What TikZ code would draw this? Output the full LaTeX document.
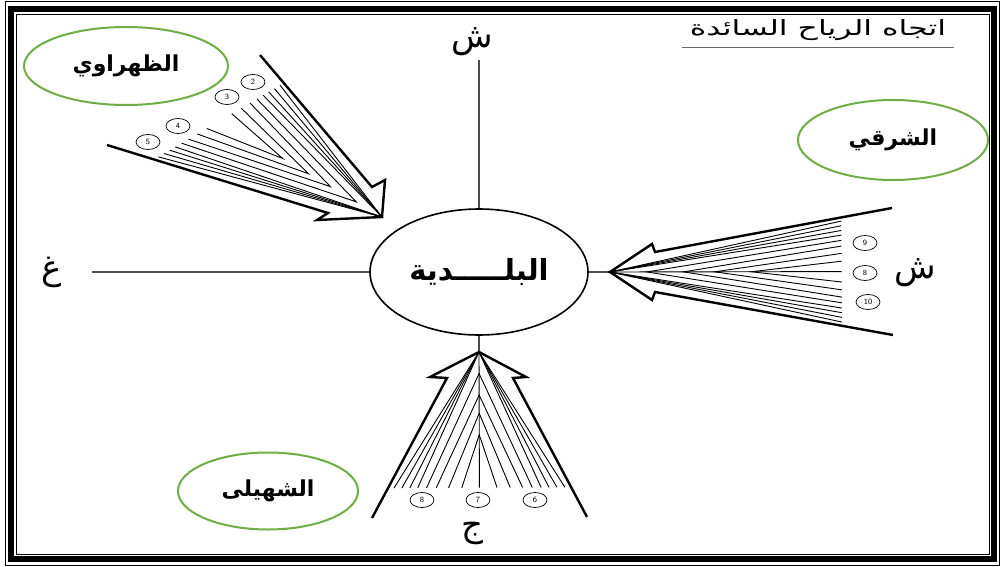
\documentclass[tikz,border=0pt]{standalone}
\usepackage{fontspec}
\usepackage{graphicx}
\usetikzlibrary{shapes.geometric,calc}
\newfontfamily\arabicfont[Script=Arabic]{DejaVu Sans}
\TeXXeTstate=1
\definecolor{LblGreen}{RGB}{112,173,71}

\begin{document}
\begin{tikzpicture}[x=1pt,y=-1pt,
    city/.style={ellipse,draw,line width=1.6,minimum width=218,minimum height=126,inner sep=0pt,font=\arabicfont\bfseries\fontsize{29}{32}\selectfont},
    windlbl/.style={ellipse,draw=LblGreen,line width=2,fill=white,inner sep=0pt,font=\arabicfont\bfseries\fontsize{22}{24}\selectfont},
    dirlbl/.style={inner sep=0pt,font=\arabicfont\fontsize{34}{36}\selectfont},
    num/.style={ellipse,draw,line width=0.7,minimum width=24,minimum height=15,inner sep=0pt,font=\sffamily\fontsize{8}{8}\selectfont},
    axis/.style={black!70,line width=1.1},
    windedge/.style={line width=2.4,line join=miter},
    fanline/.style={black,line width=0.9}
  ]
  \useasboundingbox (0,0) rectangle (1003,567);
  % frame
  \draw[line width=1] (5,2) rectangle (999,565);
  \draw[line width=6] (11,9) rectangle (994,559);
  \draw[line width=0.8] (16,14) rectangle (989,554);

  % title
  \node[inner sep=0pt,minimum width=272,font=\arabicfont\fontsize{21}{24}\selectfont] (title) at (818,30) {\scalebox{1.5}[1]{\beginR اتجاه الرياح السائدة\endR}};
  \draw[black!60,line width=1.2] ([yshift=-7]title.south west) -- ([yshift=-7]title.south east);

  % town and directions
  \node[city] (city) at (479,272) {\beginR البلـــــدية\endR};
  \node[dirlbl] (lblN) at (472,42) {\beginR ش\endR};
  \node[dirlbl] (lblW) at (52,272) {\beginR غ\endR};
  \node[dirlbl] (lblE) at (915,273) {\beginR ش\endR};
  \node[dirlbl] (lblS) at (472,533) {\beginR ج\endR};

  % wind arrows: tip, tails and barbs
  \coordinate (nw-T) at (382,217);
  \coordinate (nw-A) at (260,55);  \coordinate (nw-Ai) at (372,187); \coordinate (nw-Ao) at (385,180);
  \coordinate (nw-B) at (107,145); \coordinate (nw-Bi) at (328,213); \coordinate (nw-Bo) at (317,220);
  \coordinate (e-T) at (610,272);
  \coordinate (e-A) at (892,208);  \coordinate (e-Ai) at (655,252); \coordinate (e-Ao) at (652,244);
  \coordinate (e-B) at (893,335);  \coordinate (e-Bi) at (655,292); \coordinate (e-Bo) at (652,300);
  \coordinate (s-T) at (479,352);
  \coordinate (s-A) at (372,518);  \coordinate (s-Ai) at (447,378); \coordinate (s-Ao) at (430,377);
  \coordinate (s-B) at (587,517);  \coordinate (s-Bi) at (513,378); \coordinate (s-Bo) at (526,377);

  \coordinate (nEnd) at (479,60);
  \coordinate (wEnd) at (92,272);
  \draw[axis] (nEnd) -- (city.north);
  \draw[axis] (wEnd) -- (city.west);
  \draw[axis] (city.east) -- (e-T);
  \draw[axis] (city.south) -- (s-T);

  \foreach \w in {nw,e,s} {
    \coordinate (\w-M) at ($(\w-A)!0.5!(\w-B)$);
    % lines from the tip
    \foreach \t in {0.015,0.06,0.105,0.15} {
      \coordinate (p) at ($(\w-A)!\t!(\w-B)$);
      \coordinate (q) at ($(\w-A)!1-\t!(\w-B)$);
      \draw[fanline] ($(\w-T)!0.82!(p)$) -- (\w-T) -- ($(\w-T)!0.82!(q)$);
    }
    % nested chevrons
    \foreach \s/\t in {0.13/0.2,0.26/0.255,0.37/0.325,0.5/0.4} {
      \coordinate (p) at ($(\w-A)!\t!(\w-B)$);
      \coordinate (q) at ($(\w-A)!1-\t!(\w-B)$);
      \draw[fanline] ($(\w-T)!0.82!(p)$) -- ($(\w-T)!\s!(\w-M)$) -- ($(\w-T)!0.82!(q)$);
    }
    \draw[windedge] (\w-A) -- (\w-Ai) -- (\w-Ao) -- (\w-T) -- (\w-Bo) -- (\w-Bi) -- (\w-B);
  }
  \foreach \w in {e,s}
    \draw[fanline] (\w-T) -- ($(\w-T)!0.82!(\w-M)$);

  % numbered streams
  \node[num] (c2) at (253,82) {2};
  \node[num] (c3) at (227,97) {3};
  \node[num] (c4) at (178,126) {4};
  \node[num] (c5) at (148,142) {5};
  \node[num] (c9) at (865,243) {9};
  \node[num] (c8e) at (865,273) {8};
  \node[num] (c10) at (868,302) {10};
  \node[num] (c8s) at (422,500) {8};
  \node[num] (c7) at (478,500) {7};
  \node[num] (c6) at (535,500) {6};

  % wind names
  \node[windlbl,minimum width=204,minimum height=78] (zhw) at (126,66) {\beginR الظهراوي\endR};
  \node[windlbl,minimum width=190,minimum height=80] (shrq) at (893,140) {\beginR الشرقي\endR};
  \node[windlbl,minimum width=180,minimum height=77] (shhl) at (268,491) {\beginR الشهيلى\endR};
\end{tikzpicture}
\end{document}
